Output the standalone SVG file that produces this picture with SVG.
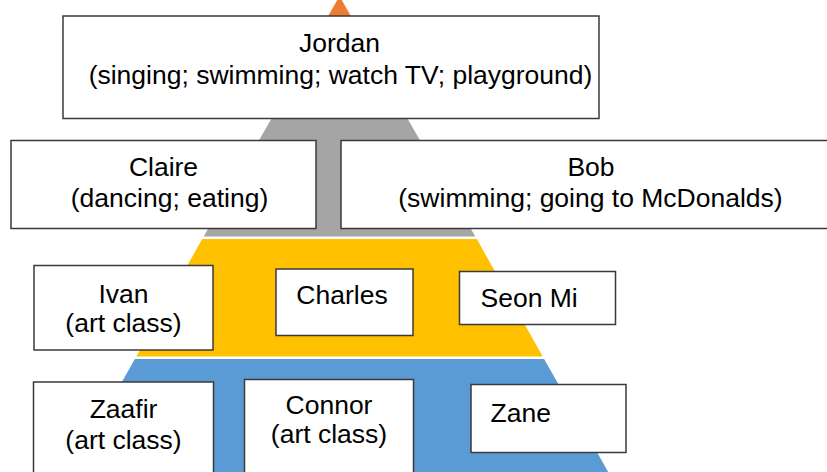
<svg xmlns="http://www.w3.org/2000/svg" width="827" height="472" viewBox="0 0 827 472">
  <style>
    .box { fill: #ffffff; stroke: #3a3a3a; stroke-width: 1.5; }
    .lbl { font-family: "Liberation Sans", Arial, sans-serif; font-size: 26.5px; fill: #000000; text-anchor: middle; }
    .lft { text-anchor: start; }
  </style>
  <rect width="827" height="472" fill="#ffffff"/>

  <!-- pyramid layers, shared slope, white gaps between bands -->
  <g id="pyramid">
    <polygon points="339.5,-4 403.9,110 275.1,110" fill="#ED7D31"/>
    <polygon points="275.0,112.5 404.0,112.5 475.3,236.5 203.7,236.5" fill="#A5A5A5"/>
    <polygon points="202.2,239 476.8,239 542.7,356.5 136.3,356.5" fill="#FFC000"/>
    <polygon points="134.9,359 544.1,359 610.5,476 68.5,476" fill="#5B9BD5"/>
  </g>

  <g id="jordan">
    <rect class="box" x="63" y="16" width="536" height="102.5"/>
    <text class="lbl" x="339.5" y="52">Jordan</text>
    <text class="lbl" x="340.5" y="84">(singing; swimming; watch TV; playground)</text>
  </g>

  <g id="claire">
    <rect class="box" x="11" y="140.5" width="305" height="88"/>
    <text class="lbl" x="163.5" y="176">Claire</text>
    <text class="lbl" x="169.5" y="207">(dancing; eating)</text>
  </g>

  <g id="bob">
    <rect class="box" x="341" y="140.5" width="492" height="88"/>
    <text class="lbl" x="591" y="176">Bob</text>
    <text class="lbl" x="590.5" y="207">(swimming; going to McDonalds)</text>
  </g>

  <g id="ivan">
    <rect class="box" x="34" y="265.5" width="179" height="84.5"/>
    <text class="lbl" x="123.5" y="302.5">Ivan</text>
    <text class="lbl" x="123.5" y="331.5">(art class)</text>
  </g>

  <g id="charles">
    <rect class="box" x="276" y="269" width="137" height="66.5"/>
    <text class="lbl" x="342" y="304">Charles</text>
  </g>

  <g id="seon-mi">
    <rect class="box" x="459.5" y="271.5" width="156" height="53"/>
    <text class="lbl lft" x="480.5" y="306.5">Seon Mi</text>
  </g>

  <g id="zaafir">
    <rect class="box" x="33.5" y="382" width="180" height="100"/>
    <text class="lbl" x="123.5" y="418">Zaafir</text>
    <text class="lbl" x="123.5" y="449">(art class)</text>
  </g>

  <g id="connor">
    <rect class="box" x="244.5" y="379.5" width="169" height="100"/>
    <text class="lbl" x="329" y="414">Connor</text>
    <text class="lbl" x="329" y="443">(art class)</text>
  </g>

  <g id="zane">
    <rect class="box" x="471" y="384.5" width="155" height="68"/>
    <text class="lbl lft" x="490.5" y="421.5">Zane</text>
  </g>

  <g id="connectors"></g>
</svg>
